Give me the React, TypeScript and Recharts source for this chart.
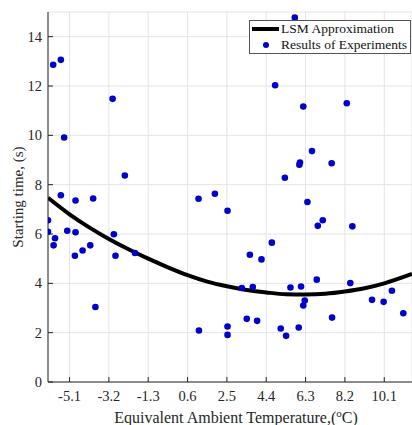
import { ComposedChart, Scatter, Line, XAxis, YAxis, CartesianGrid, Label } from 'recharts'

// x ticks on the temperature axis
const tempTicks = [-5.1, -3.2, -1.3, 0.6, 2.5, 4.4, 6.3, 8.2, 10.1]
const timeTicks = [0, 2, 4, 6, 8, 10, 12, 14]

// results of experiments (temperature, starting time)
const expTemp = [
    -5.89, -5.52, -3.02, -5.36, -2.43, -5.52, -4.81, -3.96, 1.13, 5.78,
    4.83, 6.19, 8.29, 6.61, 6.03, 6.0, 7.56, 5.3, 1.92, 6.39,
    2.53, -6.14, -6.14, -5.8, -5.87, -5.21, -4.81, -4.84, -4.47, -4.1,
    -3.85, -2.96, -2.88, -1.94, 1.15, 6.89, 7.13, 8.56, 4.67, 3.61,
    4.17, 6.84, 8.46, 3.22, 3.75, 5.57, 6.08, 6.26, 6.19, 10.47,
    9.51, 10.07, 11.02, 3.46, 3.96, 7.58, 2.53, 2.53, 5.1, 5.36,
    5.97,
]
const expTime = [
    12.86, 13.06, 11.48, 9.91, 8.37, 7.57, 7.36, 7.44, 7.43, 14.77,
    12.03, 11.17, 11.3, 9.36, 8.9, 8.81, 8.87, 8.28, 7.63, 7.3,
    6.94, 6.56, 6.09, 5.83, 5.54, 6.13, 6.07, 5.12, 5.33, 5.54,
    3.04, 5.99, 5.12, 5.23, 2.09, 6.33, 6.56, 6.31, 5.65, 5.16,
    4.97, 4.15, 4.01, 3.81, 3.85, 3.83, 3.87, 3.3, 3.1, 3.7,
    3.33, 3.25, 2.79, 2.56, 2.48, 2.61, 2.25, 1.91, 2.17, 1.87,
    2.21,
]

// LSM approximation curve
const fitTemp = [-6.14, -5.1, -4.15, -3.2, -2.25, -1.3, -0.35, 0.6, 1.55, 2.5, 3.45, 4.4, 5.35, 6.3, 7.25, 8.2, 9.15, 10.1, 11.44]
const fitTime = [7.47, 6.8, 6.27, 5.8, 5.38, 5.0, 4.65, 4.33, 4.07, 3.88, 3.73, 3.63, 3.56, 3.55, 3.58, 3.67, 3.8, 4.0, 4.38]

const experiments = expTemp.map((t, i) => ({ temp: t, time: expTime[i] }))
const fit = fitTemp.map((t, i) => ({ temp: t, time: fitTime[i] }))

const font = '"Liberation Serif", "Times New Roman", serif'
const blue = '#0000cd'
const axisColor = '#262626'

const XTitle = ({ viewBox }: any) => (
    <text
        x={viewBox.x + viewBox.width / 2 + 6}
        y={viewBox.y + 41}
        textAnchor="middle"
        fontFamily={font}
        fontSize={16}
        fill={axisColor}
    >
        Equivalent Ambient Temperature,(
        <tspan dy={-6} fontSize={11}>o</tspan>
        <tspan dy={6}>C)</tspan>
    </text>
)

const YTitle = ({ viewBox }: any) => {
    const cx = 18
    const cy = viewBox.y + viewBox.height / 2
    return (
        <text
            x={cx}
            y={cy}
            transform={`rotate(-90 ${cx} ${cy})`}
            textAnchor="middle"
            dominantBaseline="central"
            fontFamily={font}
            fontSize={15}
            fill={axisColor}
        >
            Starting time, (s)
        </text>
    )
}

const Dot = (p: any) => <circle cx={p.cx} cy={p.cy} r={3.3} fill={blue} />

export default function App() {
    return (
        <div
            style={{
                position: 'fixed',
                left: 0,
                top: 0,
                width: 412,
                height: 425,
                background: '#fff',
                overflow: 'hidden',
                fontFamily: font,
            }}
        >
            <ComposedChart
                width={412}
                height={425}
                margin={{ top: 12, right: 0, bottom: 0, left: 0 }}
                style={{ fontFamily: font }}
            >
                <CartesianGrid stroke="#e4e4e4" strokeWidth={1} />
                <XAxis
                    dataKey="temp"
                    type="number"
                    domain={[-6.14, 11.44]}
                    ticks={tempTicks}
                    allowDataOverflow
                    height={43}
                    tickSize={-5}
                    tickMargin={14}
                    stroke={axisColor}
                    tick={{ fill: axisColor, fontSize: 14.5, fontFamily: font }}
                >
                    <Label content={XTitle} />
                </XAxis>
                <XAxis
                    xAxisId="top"
                    orientation="top"
                    dataKey="temp"
                    type="number"
                    domain={[-6.14, 11.44]}
                    ticks={tempTicks}
                    allowDataOverflow
                    height={0}
                    tickSize={-5}
                    stroke={axisColor}
                    tick={{ fill: 'transparent', fontSize: 1 }}
                />
                <YAxis
                    dataKey="time"
                    type="number"
                    domain={[0, 15]}
                    ticks={timeTicks}
                    allowDataOverflow
                    width={48}
                    tickSize={-5}
                    tickMargin={11}
                    stroke={axisColor}
                    tick={{ fill: axisColor, fontSize: 14.5, fontFamily: font }}
                >
                    <Label content={YTitle} />
                </YAxis>
                <Line
                    data={fit}
                    dataKey="time"
                    type="monotone"
                    stroke="#000"
                    strokeWidth={4}
                    dot={false}
                    activeDot={false}
                    isAnimationActive={false}
                />
                <Scatter data={experiments} dataKey="time" fill={blue} shape={Dot} isAnimationActive={false} />
            </ComposedChart>
            <div
                style={{
                    position: 'absolute',
                    left: 249,
                    top: 20,
                    width: 160,
                    height: 32,
                    border: '1px solid #555',
                    background: '#fff',
                    fontFamily: font,
                    fontSize: 13.5,
                    lineHeight: '16px',
                    color: '#111',
                }}
            >
                <div style={{ display: 'flex', alignItems: 'center', height: 16 }}>
                    <div style={{ width: 31, display: 'flex', justifyContent: 'center' }}>
                        <div style={{ width: 27, height: 4, background: '#000' }} />
                    </div>
                    <span>LSM Approximation</span>
                </div>
                <div style={{ display: 'flex', alignItems: 'center', height: 16 }}>
                    <div style={{ width: 31, display: 'flex', justifyContent: 'center' }}>
                        <div style={{ width: 6, height: 6, borderRadius: 3, background: blue }} />
                    </div>
                    <span>Results of Experiments</span>
                </div>
            </div>
        </div>
    )
}
